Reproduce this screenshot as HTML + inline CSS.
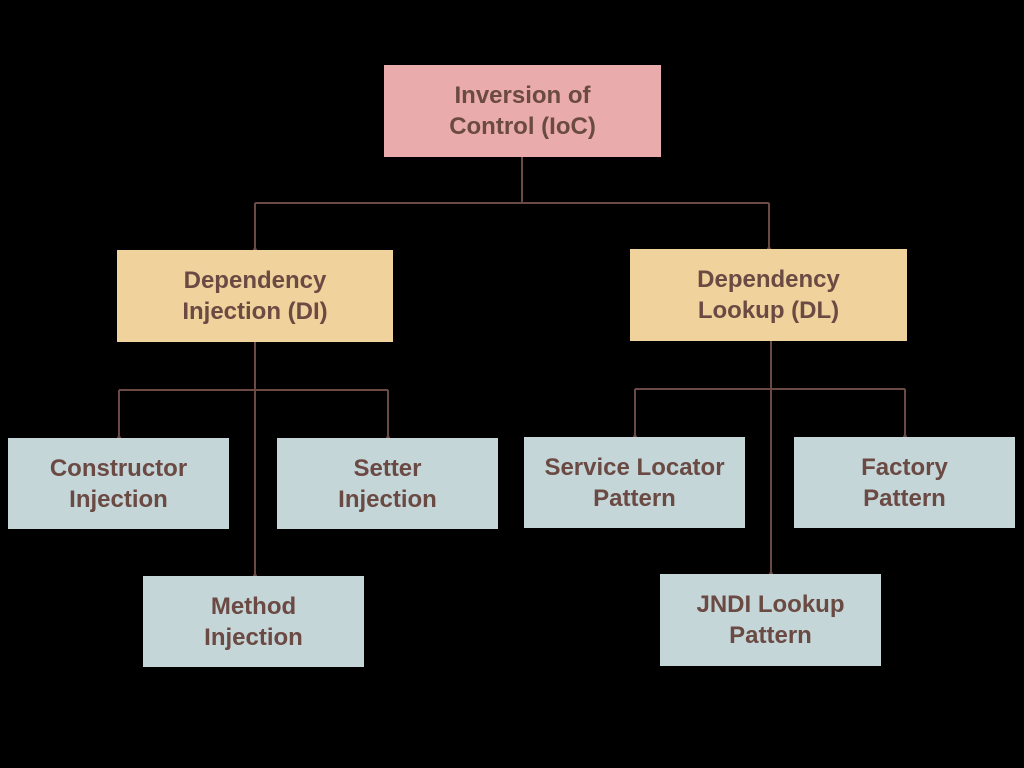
<!DOCTYPE html>
<html><head><meta charset="utf-8"><style>
html,body{margin:0;padding:0;background:#000;}
body{width:1024px;height:768px;position:relative;overflow:hidden;font-family:"Liberation Sans",sans-serif;}
.b{position:absolute;display:flex;align-items:center;justify-content:center;text-align:center;color:#6b4a44;font-weight:bold;font-size:24px;line-height:31px;}
.p{background:#e9abab;}
.y{background:#f0d29c;}
.g{background:#c4d6d8;}
svg{position:absolute;left:0;top:0;}
</style></head><body>
<svg width="1024" height="768">
<g stroke="#6b4a44" stroke-width="2" fill="none">
<path d="M522 157V203M255 203H769M255 203V250M769 203V249"/>
<path d="M255 342V576M119 390H388M119 390V438M388 390V438"/>
<path d="M771 341V574M635 389H905M635 389V437M905 389V437"/>
</g>
<g fill="#6b4a44">
<circle cx="255" cy="250" r="2"/><circle cx="769" cy="249" r="2"/>
<circle cx="119" cy="438" r="2"/><circle cx="388" cy="438" r="2"/><circle cx="255" cy="576" r="2"/>
<circle cx="635" cy="437" r="2"/><circle cx="905" cy="437" r="2"/><circle cx="771" cy="574" r="2"/>
</g>
</svg>
<div class="b p" style="left:384px;top:65px;width:277px;height:92px;">Inversion of<br>Control (IoC)</div>
<div class="b y" style="left:117px;top:250px;width:276px;height:92px;">Dependency<br>Injection (DI)</div>
<div class="b y" style="left:630px;top:249px;width:277px;height:92px;">Dependency<br>Lookup (DL)</div>
<div class="b g" style="left:8px;top:438px;width:221px;height:91px;">Constructor<br>Injection</div>
<div class="b g" style="left:277px;top:438px;width:221px;height:91px;">Setter<br>Injection</div>
<div class="b g" style="left:143px;top:576px;width:221px;height:91px;">Method<br>Injection</div>
<div class="b g" style="left:524px;top:437px;width:221px;height:91px;">Service Locator<br>Pattern</div>
<div class="b g" style="left:794px;top:437px;width:221px;height:91px;">Factory<br>Pattern</div>
<div class="b g" style="left:660px;top:574px;width:221px;height:92px;">JNDI Lookup<br>Pattern</div>
</body></html>
